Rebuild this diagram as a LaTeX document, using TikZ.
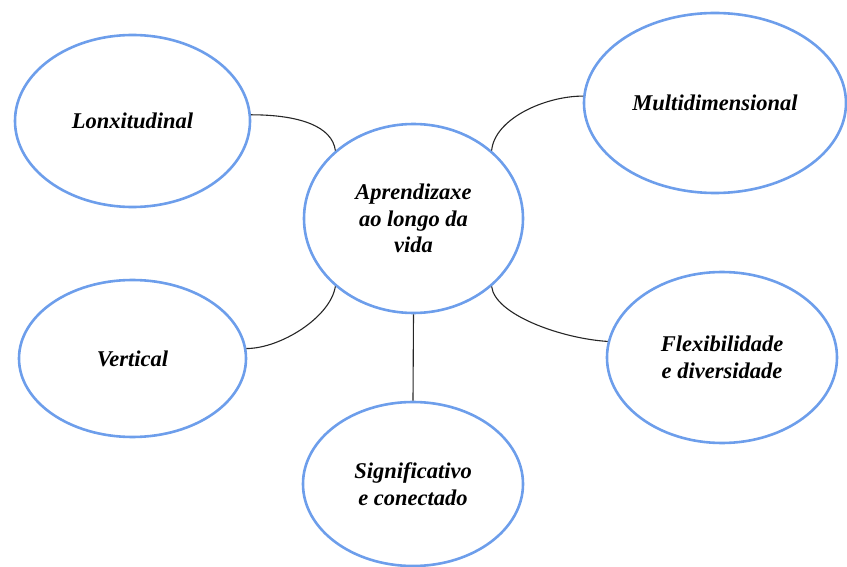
\documentclass[tikz,border=0pt]{standalone}
\usepackage{fontspec}
\setmainfont{Liberation Serif}
\usetikzlibrary{shapes.geometric}
\definecolor{ellblue}{HTML}{6D9EEB}
\tikzset{
  bubble/.style={ellipse, draw=ellblue, line width=2.6pt, inner sep=0pt, align=center,
    font=\fontsize{22.5}{26.5}\selectfont\bfseries\itshape, text=black},
  link/.style={draw=black!85, line width=1.1pt}
}
\begin{document}
\begin{tikzpicture}[x=1pt,y=-1pt]
\useasboundingbox (0,0) rectangle (847,567);
\node[bubble, minimum width=219pt, minimum height=189pt] (C) at (413.5,218.5) {Aprendizaxe\\ao longo da\\vida};
\node[bubble, minimum width=235pt, minimum height=172pt] (L) at (132.5,121) {Lonxitudinal};
\node[bubble, minimum width=262pt, minimum height=180pt] (M) at (715,103) {Multidimensional};
\node[bubble, minimum width=227pt, minimum height=157pt] (V) at (132.5,358.5) {Vertical};
\node[bubble, minimum width=230pt, minimum height=171pt] (F) at (722,357.5) {Flexibilidade\\e diversidade};
\node[bubble, minimum width=220pt, minimum height=164pt] (S) at (413,484) {Significativo\\e conectado};
\draw[link] (L.3) .. controls +(49,0) and +(-3,-24) .. (C.139);
\draw[link] (C.41) .. controls +(3,-32) and +(-38,0) .. (M.177);
\draw[link] (C.221) .. controls +(-5,31) and +(34,0) .. (V.5);
\draw[link] (C.319) .. controls +(3,28) and +(-47,-3) .. (F.172);
\draw[link] (C.south) -- (S.north);
\end{tikzpicture}
\end{document}
